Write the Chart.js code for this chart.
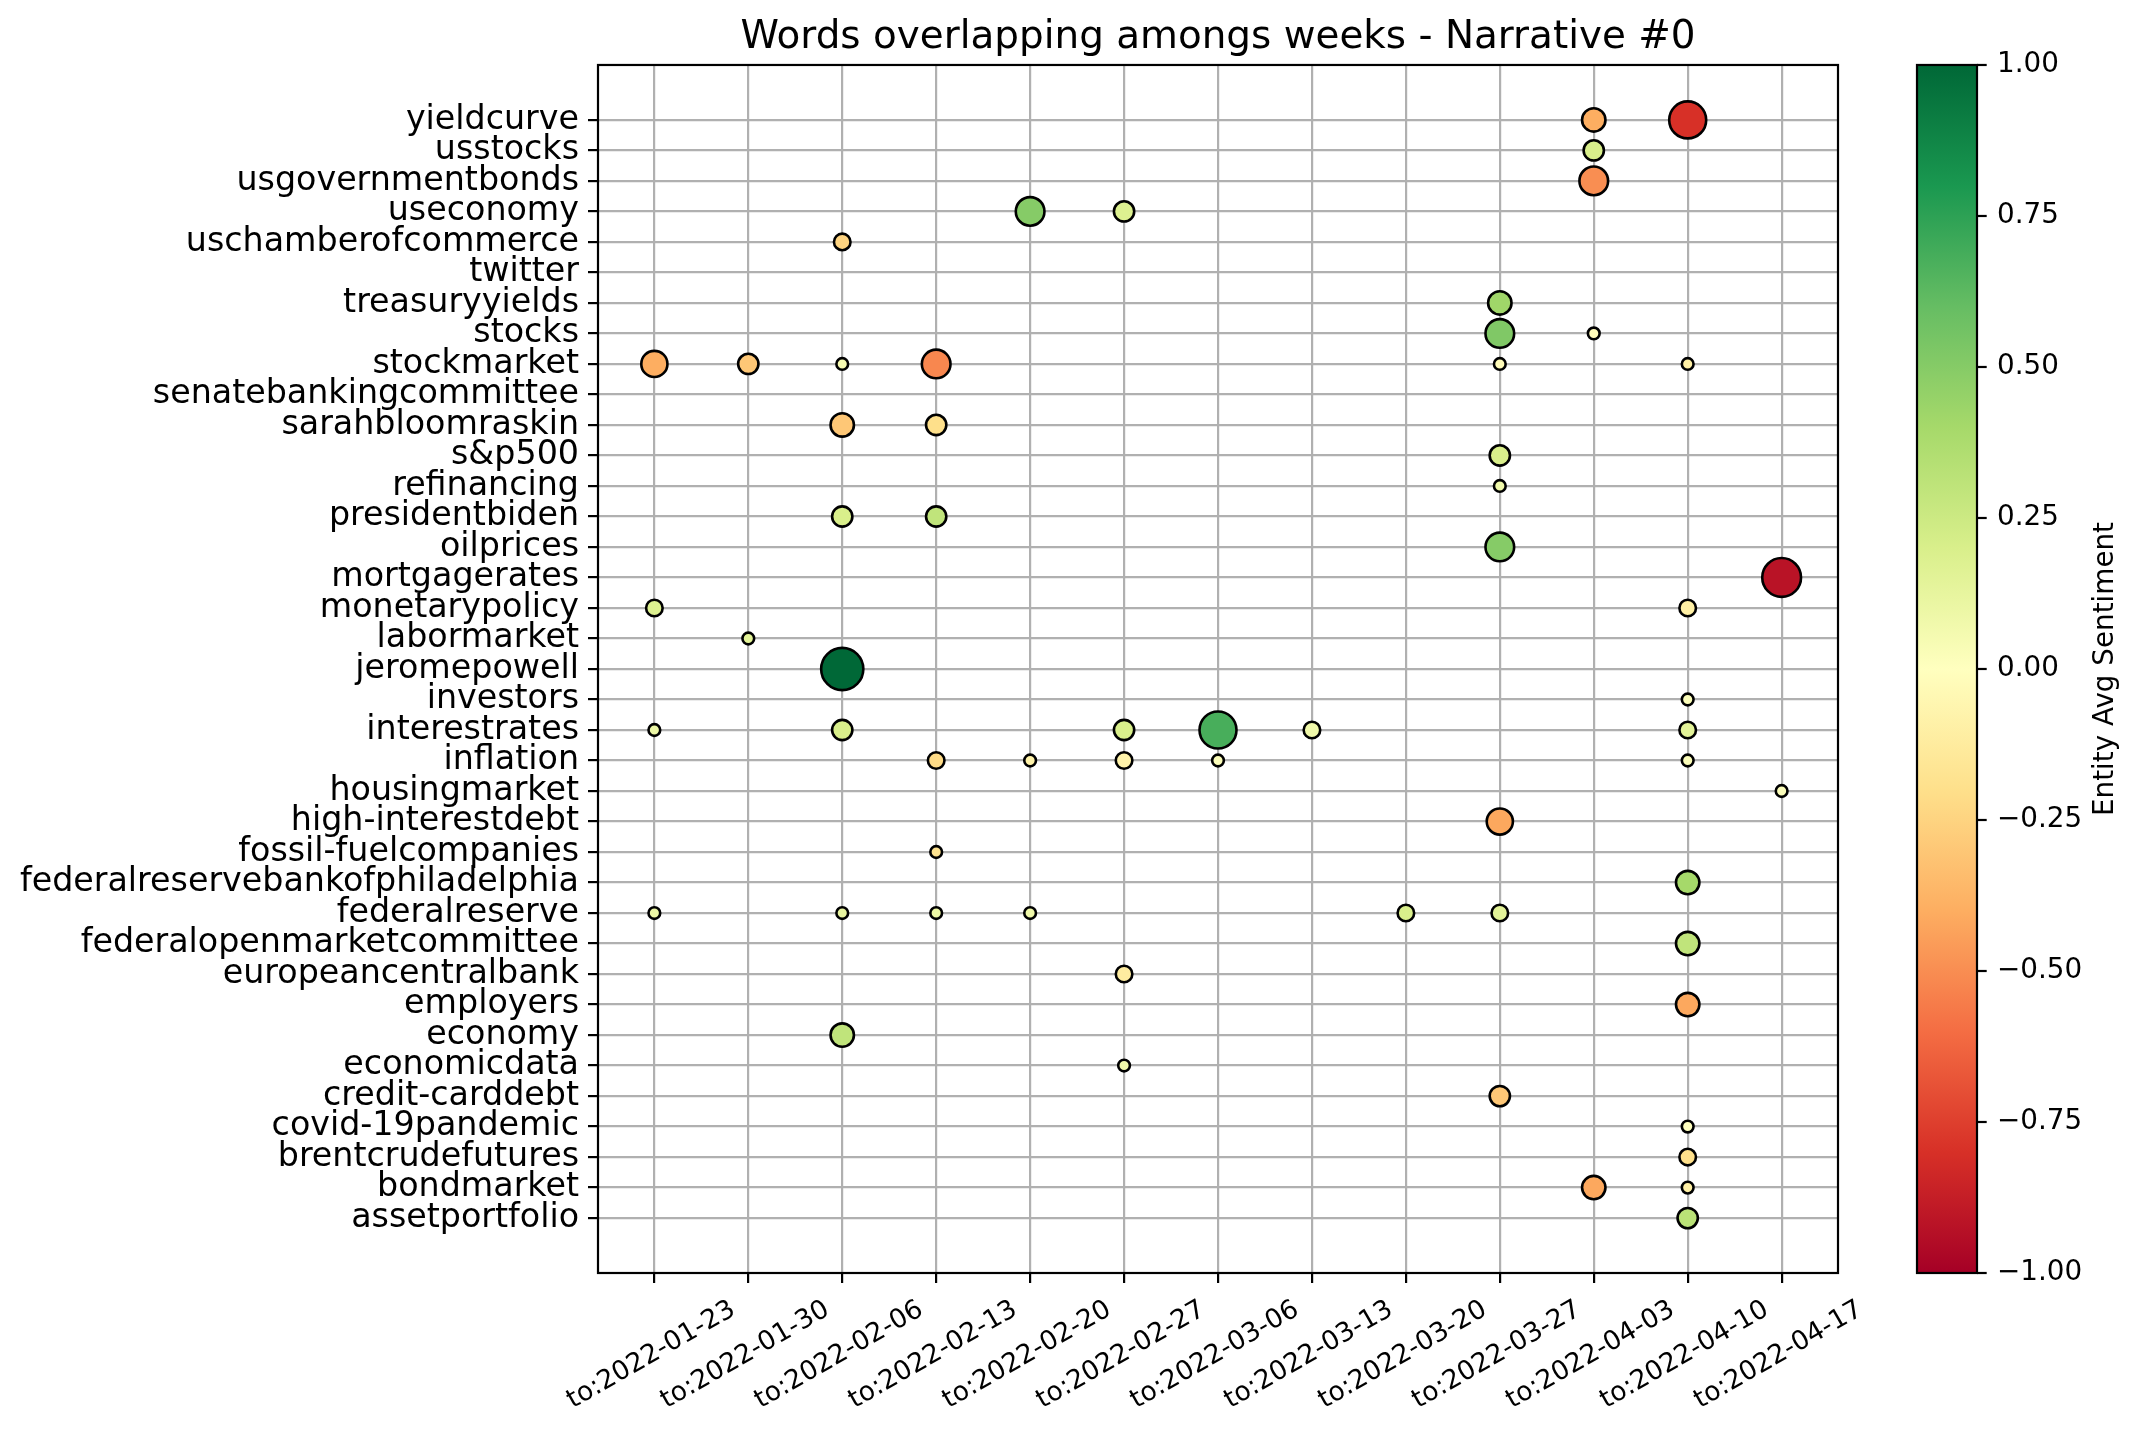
<!DOCTYPE html>
<html>
<head>
<meta charset="utf-8">
<script src="https://cdn.jsdelivr.net/npm/chart.js@4.4.1/dist/chart.umd.min.js"></script>
<style>
html,body{margin:0;padding:0;background:#fff;}
#c{display:block;width:2140px;height:1437px;}
</style>
</head>
<body>
<canvas id="c" width="2140" height="1437"></canvas>
<script>
// ---------- DATA ----------
const chartTitle = 'Words overlapping amongs weeks - Narrative #0';
const colorbarLabel = 'Entity Avg Sentiment';

const weeks = ['to:2022-01-23','to:2022-01-30','to:2022-02-06','to:2022-02-13','to:2022-02-20',
  'to:2022-02-27','to:2022-03-06','to:2022-03-13','to:2022-03-20','to:2022-03-27',
  'to:2022-04-03','to:2022-04-10','to:2022-04-17'];

// bottom -> top
const entities = ['assetportfolio','bondmarket','brentcrudefutures','covid-19pandemic','credit-carddebt',
  'economicdata','economy','employers','europeancentralbank','federalopenmarketcommittee','federalreserve',
  'federalreservebankofphiladelphia','fossil-fuelcompanies','high-interestdebt','housingmarket','inflation',
  'interestrates','investors','jeromepowell','labormarket','monetarypolicy','mortgagerates','oilprices',
  'presidentbiden','refinancing','s&p500','sarahbloomraskin','senatebankingcommittee','stockmarket','stocks',
  'treasuryyields','twitter','uschamberofcommerce','useconomy','usgovernmentbonds','usstocks','yieldcurve'];

const pointEntity = ['yieldcurve','yieldcurve','usstocks','usgovernmentbonds','useconomy','useconomy',
  'uschamberofcommerce','treasuryyields','stocks','stocks','stockmarket','stockmarket','stockmarket',
  'stockmarket','stockmarket','stockmarket','sarahbloomraskin','sarahbloomraskin','s&p500','refinancing',
  'presidentbiden','presidentbiden','oilprices','mortgagerates','monetarypolicy','monetarypolicy',
  'labormarket','jeromepowell','investors','interestrates','interestrates','interestrates','interestrates',
  'interestrates','interestrates','inflation','inflation','inflation','inflation','inflation',
  'housingmarket','high-interestdebt','fossil-fuelcompanies','federalreservebankofphiladelphia',
  'federalreserve','federalreserve','federalreserve','federalreserve','federalreserve','federalreserve',
  'federalopenmarketcommittee','europeancentralbank','employers','economy','economicdata','credit-carddebt',
  'covid-19pandemic','brentcrudefutures','bondmarket','bondmarket','assetportfolio'];

const pointWeek = ['to:2022-04-03','to:2022-04-10','to:2022-04-03','to:2022-04-03','to:2022-02-20','to:2022-02-27',
  'to:2022-02-06','to:2022-03-27','to:2022-03-27','to:2022-04-03','to:2022-01-23','to:2022-01-30','to:2022-02-06',
  'to:2022-02-13','to:2022-03-27','to:2022-04-10','to:2022-02-06','to:2022-02-13','to:2022-03-27','to:2022-03-27',
  'to:2022-02-06','to:2022-02-13','to:2022-03-27','to:2022-04-17','to:2022-01-23','to:2022-04-10',
  'to:2022-01-30','to:2022-02-06','to:2022-04-10','to:2022-01-23','to:2022-02-06','to:2022-02-27','to:2022-03-06',
  'to:2022-03-13','to:2022-04-10','to:2022-02-13','to:2022-02-20','to:2022-02-27','to:2022-03-06','to:2022-04-10',
  'to:2022-04-17','to:2022-03-27','to:2022-02-13','to:2022-04-10',
  'to:2022-01-23','to:2022-02-06','to:2022-02-13','to:2022-02-20','to:2022-03-20','to:2022-03-27',
  'to:2022-04-10','to:2022-02-27','to:2022-04-10','to:2022-02-06','to:2022-02-27','to:2022-03-27',
  'to:2022-04-10','to:2022-04-10','to:2022-04-03','to:2022-04-10','to:2022-04-10'];

const pointMentions = [4,10,3,6,6,3,
  2,4,6,1,5,3,1,
  6,1,1,4,3,3,1,
  3,3,6,11,2,2,
  1,13,1,1,3,3,10,
  2,2,2,1,2,1,1,
  1,5,1,4,
  1,1,1,1,2,2,
  4,2,4,4,1,3,
  1,2,4,1,3];

const pointSentiment = [-0.40,-0.80,0.20,-0.50,0.50,0.18,
  -0.25,0.42,0.52,-0.02,-0.40,-0.30,0.05,
  -0.52,-0.02,-0.10,-0.30,-0.20,0.20,0.08,
  0.20,0.30,0.50,-0.92,0.18,-0.10,
  0.15,1.00,0.02,0.10,0.20,0.20,0.68,
  0.08,0.15,-0.22,-0.08,-0.08,0.02,0.02,
  0.02,-0.42,-0.18,0.40,
  0.10,0.12,0.10,0.08,0.20,0.15,
  0.30,-0.12,-0.42,0.30,0.08,-0.30,
  0.00,-0.20,-0.42,-0.10,0.32];

const colorbarTicks = [-1,-0.75,-0.5,-0.25,0,0.25,0.5,0.75,1];

// ---------- COLOR MAP (RdYlGn) ----------
const RDYLGN = [[165,0,38],[215,48,39],[244,109,67],[253,174,97],[254,224,139],[255,255,191],
  [217,239,139],[166,217,106],[102,189,99],[26,152,80],[0,104,55]];
function cmap(v){
  let t = (v + 1) / 2; t = Math.max(0, Math.min(1, t));
  const p = t * 10; const i = Math.min(9, Math.floor(p)); const f = p - i;
  const a = RDYLGN[i], b = RDYLGN[i+1];
  return 'rgb(' + [0,1,2].map(k => Math.round(a[k] + (b[k]-a[k])*f)).join(',') + ')';
}
function radius(n){ return 5.85 * Math.sqrt(n); }

const points = pointEntity.map((e, i) => ({
  x: weeks.indexOf(pointWeek[i]),
  y: entities.indexOf(e),
  r: radius(pointMentions[i]),
  s: pointSentiment[i]
}));

const FONT = 'DejaVu Sans';

const framePlugin = {
  id: 'frame',
  afterDraw(chart){
    const {ctx, chartArea:a} = chart;
    ctx.save();
    ctx.strokeStyle = '#000'; ctx.lineWidth = 2.2;
    ctx.strokeRect(a.left, a.top, a.right - a.left, a.bottom - a.top);
    ctx.restore();
  }
};

const colorbarPlugin = {
  id: 'colorbar',
  afterDraw(chart){
    const {ctx, chartArea:a} = chart;
    const x0 = 1917, x1 = 1977, top = a.top, bot = a.bottom;
    ctx.save();
    const g = ctx.createLinearGradient(0, bot, 0, top);
    RDYLGN.forEach((c, i) => g.addColorStop(i/10, 'rgb(' + c.join(',') + ')'));
    ctx.fillStyle = g;
    ctx.fillRect(x0, top, x1 - x0, bot - top);
    ctx.strokeStyle = '#000'; ctx.lineWidth = 2.2;
    ctx.strokeRect(x0, top, x1 - x0, bot - top);
    ctx.font = '27.8px "' + FONT + '"';
    ctx.fillStyle = '#000'; ctx.textAlign = 'left'; ctx.textBaseline = 'middle';
    colorbarTicks.forEach(v => {
      const y = bot - (v + 1) / 2 * (bot - top);
      ctx.beginPath(); ctx.moveTo(x1, y); ctx.lineTo(x1 + 9.7, y); ctx.stroke();
      const txt = (v < 0 ? '\u2212' : '') + Math.abs(v).toFixed(2);
      ctx.fillText(txt, x1 + 20, y);
    });
    ctx.translate(2106, (top + bot) / 2);
    ctx.rotate(-Math.PI / 2);
    ctx.textAlign = 'center'; ctx.textBaseline = 'middle';
    ctx.fillText(colorbarLabel, 0, 0);
    ctx.restore();
  }
};

new Chart(document.getElementById('c'), {
  type: 'bubble',
  data: {
    datasets: [{
      data: points,
      backgroundColor: c => cmap(c.raw ? c.raw.s : 0),
      borderColor: '#000',
      borderWidth: 2.6,
      hoverBorderWidth: 2.6
    }]
  },
  options: {
    responsive: false,
    animation: false,
    events: [],
    layout: { padding: { left: 0, right: 302, top: 0, bottom: 0 } },
    plugins: {
      legend: { display: false },
      tooltip: { enabled: false },
      title: {
        display: true, text: chartTitle, fullSize: false, color: '#000',
        font: { family: FONT, size: 38.9, weight: 'normal', lineHeight: 1.2 },
        padding: { top: 14.5, bottom: 3.8 }
      }
    },
    scales: {
      x: {
        type: 'linear', min: -0.6, max: 12.6, z: 1,
        afterBuildTicks: s => { s.ticks = weeks.map((_, i) => ({ value: i })); },
        afterFit: s => { s.height = 164; },
        grid: { color: '#b0b0b0', lineWidth: 2.2, drawTicks: true, tickLength: 10, tickColor: '#000', tickWidth: 2.2 },
        border: { display: false },
        ticks: {
          autoSkip: false, maxRotation: 30, minRotation: 30, color: '#000',
          font: { family: FONT, size: 26.5 }, padding: 11, labelOffset: 79,
          callback: v => weeks[v]
        }
      },
      y: {
        type: 'linear', min: -1.8, max: 37.8, z: 1,
        afterBuildTicks: s => { s.ticks = entities.map((_, i) => ({ value: i })); },
        afterFit: s => { s.width = 598; },
        grid: { color: '#b0b0b0', lineWidth: 2.2, drawTicks: true, tickLength: 10, tickColor: '#000', tickWidth: 2.2 },
        border: { display: false },
        ticks: {
          autoSkip: false, color: '#000', font: { family: FONT, size: 33.3 }, padding: 9,
          callback: v => entities[v]
        }
      }
    }
  },
  plugins: [framePlugin, colorbarPlugin]
});
</script>
</body>
</html>
